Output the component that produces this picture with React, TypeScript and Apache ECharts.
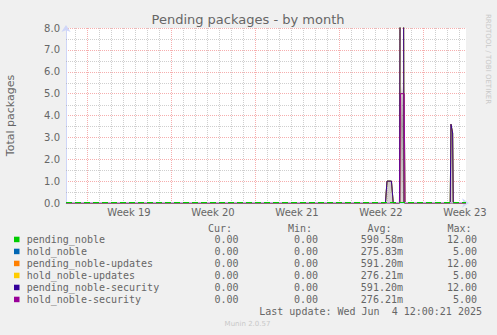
import React, { useEffect, useRef } from "react";
import * as echarts from "echarts";

// ---- data (x = days since left edge of the plot) ----
const seriesNames = [
  "pending_noble",
  "hold_noble",
  "pending_noble-updates",
  "hold_noble-updates",
  "pending_noble-security",
  "hold_noble-security",
];
const seriesColors = ["#00cc00", "#0066b3", "#ff8000", "#ffcc00", "#330099", "#990099"];
const curValues = ["0.00", "0.00", "0.00", "0.00", "0.00", "0.00"];
const minValues = ["0.00", "0.00", "0.00", "0.00", "0.00", "0.00"];
const avgValues = ["590.58m", "275.83m", "591.20m", "276.21m", "591.20m", "276.21m"];
const maxValues = ["12.00", "5.00", "12.00", "5.00", "12.00", "5.00"];

const pendingDays = [0, 26.62, 26.75, 27.12, 27.27, 27.79, 27.86, 28.12, 28.17, 32.02, 32.08, 32.22, 32.27, 33.33];
const pendingValues = [0, 0, 1, 1, 0, 0, 12, 12, 0, 0, 3.6, 3.2, 0, 0];
const holdDays = [0, 27.82, 27.87, 28.18, 28.25, 33.33];
const holdValues = [0, 0, 5, 5, 0, 0];

const weekLabels = ["Week 19", "Week 20", "Week 21", "Week 22", "Week 23"];
const weekCenters = [5.25, 12.25, 19.25, 26.25, 33.25];
const weekStarts = [1.75, 8.75, 15.75, 22.75, 29.75];
const dayLines = Array.from({ length: 33 }, (_, i) => 0.75 + i);
const minorYLines = [0.5, 1.5, 2.5, 3.5, 4.5, 5.5, 6.5, 7.5];

const title = "Pending packages - by month";
const yName = "Total packages";
const headers = ["Cur:", "Min:", "Avg:", "Max:"];
const lastUpdate = "Last update: Wed Jun  4 12:00:21 2025";
const munin = "Munin 2.0.57";
const rrd = "RRDTOOL / TOBI OETIKER";

const FONT = '"DejaVu Sans", sans-serif';
const MONO = '"DejaVu Sans Mono", monospace';
const TXT = "#666666";
const RED_GRID = "rgba(240,120,120,0.6)";
const GRAY_GRID = "rgba(160,160,160,0.5)";
const X_MAX = 400 / 12;

function pts(days: number[], vals: number[]) {
  return days.map((d, i) => [d, vals[i]]);
}

export default function App() {
  const ref = useRef<HTMLDivElement>(null);
  useEffect(() => {
    if (!ref.current) return;
    const chart = echarts.init(ref.current, null, { renderer: "svg" });

    const isHold = (i: number) => i % 2 === 1;
    const series: any[] = seriesNames.map((name, i) => {
      const s: any = {
        name,
        type: "line",
        data: isHold(i) ? pts(holdDays, holdValues) : pts(pendingDays, pendingValues),
        showSymbol: false,
        symbol: "none",
        lineStyle: { color: seriesColors[i], width: 1 },
        itemStyle: { color: seriesColors[i] },
        z: 2,
        silent: true,
      };
      if (i === 4) {
        s.areaStyle = {
          color: {
            type: "linear",
            global: true,
            x: 0, y: 28, x2: 0, y2: 203,
            colorStops: [
              { offset: 0, color: "rgba(120,95,95,0)" },
              { offset: 0.33, color: "rgba(120,95,95,0.08)" },
              { offset: 0.4, color: "rgba(115,90,95,0.55)" },
              { offset: 0.55, color: "rgba(100,80,85,0.8)" },
              { offset: 1, color: "rgba(160,140,140,0.5)" },
            ],
          },
        };
      }
      return s;
    });

    // vertical grid lines (days / weeks) drawn through the x scale
    series.unshift({
      type: "custom",
      name: "vgrid",
      silent: true,
      z: 1,
      clip: false,
      data: dayLines.map((v) => [v, weekStarts.some((w) => Math.abs(w - v) < 1e-6) ? 1 : 0]),
      encode: { x: 0 },
      renderItem: (params: any, api: any) => {
        const v = api.value(0);
        const major = api.value(1) === 1;
        const p1 = api.coord([v, 0]);
        const p2 = api.coord([v, 8]);
        const x = Math.round(p1[0]) + 0.5;
        return {
          type: "line",
          shape: { x1: x, y1: p1[1], x2: x, y2: p2[1] },
          style: { stroke: major ? RED_GRID : GRAY_GRID, lineWidth: 1, lineDash: [1, 1] },
        };
      },
    });
    // minor horizontal grid lines drawn through the y scale
    series.unshift({
      type: "custom",
      name: "hgrid",
      silent: true,
      z: 1,
      clip: false,
      data: minorYLines.map((v) => [0, v]),
      encode: { x: 0, y: 1 },
      renderItem: (params: any, api: any) => {
        const v = api.value(1);
        const a = api.coord([0, v]);
        const b = api.coord([X_MAX, v]);
        const y = Math.round(a[1]) + 0.5;
        return {
          type: "line",
          shape: { x1: a[0], y1: y, x2: b[0], y2: y },
          style: { stroke: GRAY_GRID, lineWidth: 1, lineDash: [1, 1] },
        };
      },
    });

    // zero baseline overlay (light purple with green dashes)
    series.push({
      type: "custom",
      name: "zero",
      silent: true,
      z: 5,
      clip: false,
      data: [[0, 0, X_MAX]],
      encode: { x: [0, 2], y: 1 },
      renderItem: (params: any, api: any) => {
        const a = api.coord([api.value(0), 0]);
        const b = api.coord([api.value(2), 0]);
        const y = Math.round(a[1]) - 0.5;
        return {
          type: "group",
          children: [
            { type: "line", shape: { x1: a[0], y1: y, x2: b[0], y2: y }, style: { stroke: "#c8a2e0", lineWidth: 1 } },
            {
              type: "line",
              shape: { x1: a[0], y1: y, x2: b[0], y2: y },
              style: { stroke: "#00cc00", lineWidth: 1, lineDash: [6, 3] },
            },
          ],
        };
      },
    });

    const rowY = [239.5, 251.5, 263.5, 275.5, 287.5, 299.5];
    const graphics: any[] = [];
    const txt = (text: string, x: number, y: number, font: string, fill: string, align = "left", extra: any = {}) => ({
      type: "text",
      x,
      y,
      silent: true,
      ...extra,
      style: { text, font, fill, align, verticalAlign: "middle", textAlign: align, textVerticalAlign: "middle" },
    });
    graphics.push(txt(title, 248, 19.5, `13px ${FONT}`, TXT, "center"));
    graphics.push(txt(rrd, 487.5, 59, `7px ${FONT}`, "#c8c8c8", "center", { rotation: -Math.PI / 2 }));
    graphics.push(txt(munin, 247.5, 323.5, `7px ${FONT}`, "#c8c8c8", "center"));
    const headerX = [208, 288, 367.5, 447.5];
    headers.forEach((h, i) => graphics.push(txt(h, headerX[i], 228, `10px ${MONO}`, TXT, "left")));
    const colRight = [238.5, 318, 403, 477];
    seriesNames.forEach((name, i) => {
      graphics.push({
        type: "rect",
        silent: true,
        shape: { x: 14, y: rowY[i] - 2.8, width: 5.5, height: 5.5 },
        style: { fill: seriesColors[i] },
      });
      graphics.push(txt(name, 26.7, rowY[i], `10px ${MONO}`, TXT, "left"));
      [curValues[i], minValues[i], avgValues[i], maxValues[i]].forEach((v, k) =>
        graphics.push(txt(v, colRight[k], rowY[i], `10px ${MONO}`, TXT, "right"))
      );
    });
    graphics.push(txt(lastUpdate, 482, 311.7, `10px ${MONO}`, TXT, "right"));

    chart.setOption({
      animation: false,
      backgroundColor: "#f0f0f0",
      grid: {
        left: 66,
        top: 28,
        width: 400,
        height: 175,
        show: true,
        backgroundColor: "#ffffff",
        borderWidth: 0,
        containLabel: false,
        outerBoundsMode: "none",
      },
      xAxis: {
        type: "value",
        min: 0,
        max: X_MAX,
        splitLine: { show: false },
        axisTick: { show: false },
        axisLine: {
          show: true,
          onZero: false,
          lineStyle: { color: "#cfd6f8", width: 1 },
          symbol: ["none", "arrow"],
          symbolSize: [7, 7],
          symbolOffset: [0, 3],
        },
        axisLabel: {
          customValues: weekCenters,
          showMinLabel: true,
          showMaxLabel: true,
          hideOverlap: false,
          margin: 4,
          fontFamily: FONT,
          fontSize: 10,
          color: TXT,
          formatter: (v: number) => {
            let best = 0;
            weekCenters.forEach((c, i) => {
              if (Math.abs(c - v) < Math.abs(weekCenters[best] - v)) best = i;
            });
            return weekLabels[best];
          },
        },
        z: 0,
      },
      yAxis: {
        type: "value",
        min: 0,
        max: 8,
        interval: 1,
        name: yName,
        nameLocation: "middle",
        nameRotate: 90,
        nameGap: 50,
        nameTextStyle: { fontFamily: FONT, fontSize: 11, color: TXT },
        axisLine: {
          show: true,
          lineStyle: { color: "#cfd6f8", width: 1 },
          symbol: ["none", "arrow"],
          symbolSize: [7, 7],
          symbolOffset: [0, 3],
        },
        axisTick: { show: false },
        axisLabel: {
          margin: 6,
          fontFamily: FONT,
          fontSize: 10,
          color: TXT,
          formatter: (v: number) => v.toFixed(1),
        },
        splitLine: { show: true, lineStyle: { color: RED_GRID, type: [1, 1], width: 1 } },
        z: 0,
      },
      series,
      graphic: { elements: graphics },
    });
    return () => chart.dispose();
  }, []);
  return (
    <div
      ref={ref}
      style={{ position: "fixed", left: 0, top: 0, width: 497, height: 335, background: "#f0f0f0" }}
    />
  );
}
